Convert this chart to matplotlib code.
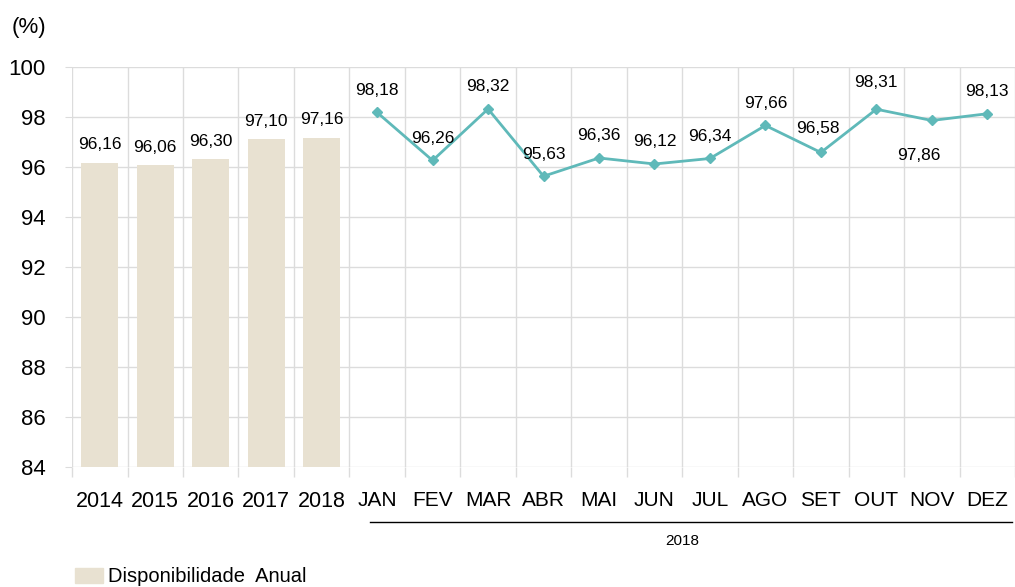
import matplotlib.pyplot as plt
import matplotlib.transforms as mtransforms
from matplotlib.patches import Patch
import numpy as np

plt.rcParams['font.family'] = ['Liberation Sans', 'DejaVu Sans']

years = ['2014', '2015', '2016', '2017', '2018']
annual = [96.16, 96.06, 96.30, 97.10, 97.16]
months = ['JAN', 'FEV', 'MAR', 'ABR', 'MAI', 'JUN', 'JUL', 'AGO', 'SET', 'OUT', 'NOV', 'DEZ']
monthly = [98.18, 96.26, 98.32, 95.63, 96.36, 96.12, 96.34, 97.66, 96.58, 98.31, 97.86, 98.13]

bar_color = '#e8e1d1'
line_color = '#5fb9b9'
grid_color = '#dcdcdc'


def fmt(v):
    return f'{v:.2f}'.replace('.', ',')


fig = plt.figure(figsize=(10.15, 5.87), dpi=100)
ax = fig.add_axes([0.071, 0.2044, 0.929, 0.6815])

xb = np.arange(len(years))
xm = np.arange(len(months)) + len(years)

ax.bar(xb, annual, width=0.66, color=bar_color, zorder=2)
ax.plot(xm, monthly, color=line_color, lw=2, marker='D', ms=5, zorder=3)

for x, v in zip(xb, annual):
    ax.annotate(fmt(v), (x, v), xytext=(0, 13), textcoords='offset points',
                ha='center', va='center', fontsize=12.5)

offsets = {10: (-9, -25), 8: (-2, 17), 9: (0, 19)}
for i, (x, v) in enumerate(zip(xm, monthly)):
    dx, dy = offsets.get(i, (0, 16))
    ax.annotate(fmt(v), (x, v), xytext=(dx, dy), textcoords='offset points',
                ha='center', va='center', fontsize=12.5)

ax.set_ylim(84, 100)
ax.set_xlim(-0.5, len(years) + len(months) - 0.5)
ax.set_yticks(np.arange(84, 101, 2))
ax.tick_params(axis='y', labelsize=16, length=5, color=grid_color, pad=14)

# grid lines at category boundaries
bounds = np.arange(-0.5, len(years) + len(months), 1)
ax.set_xticks(bounds, minor=False)
ax.set_xticklabels([])
ax.tick_params(axis='x', length=7, color=grid_color, width=1)
ax.set_xticks(np.concatenate([xb, xm]), minor=True)
ax.set_xticklabels(years + months, minor=True)
ax.tick_params(axis='x', which='minor', length=0, pad=17, labelsize=15.5)
for lbl in ax.get_xticklabels(minor=True)[len(years):]:
    lbl.set_fontsize(15)

ax.grid(True, which='major', color=grid_color, lw=1, zorder=0)
ax.set_axisbelow(True)
for s in ax.spines.values():
    s.set_visible(False)

fig.text(12 / 1015, 1 - 28 / 587, '(%)', fontsize=16, ha='left', va='center')

# line under the months with the year label
trans = mtransforms.blended_transform_factory(ax.transData, ax.transAxes)
ax.plot([len(years) - 0.13, len(years) + len(months) - 0.55], [-0.137, -0.137],
        color='black', lw=1, transform=trans, clip_on=False)
ax.text((len(years) + len(years) + len(months) - 1) / 2, -0.185, '2018',
        transform=trans, ha='center', va='center', fontsize=11)

fig.legend(handles=[Patch(color=bar_color, label='Disponibilidade  Anual')],
           loc='center left', bbox_to_anchor=(75 / 1015, 1 - 577 / 587), frameon=False,
           fontsize=14.5, handlelength=1.4, handleheight=0.7, handletextpad=0.25,
           borderpad=0, borderaxespad=0)

fig.savefig('out.png', dpi=100)
